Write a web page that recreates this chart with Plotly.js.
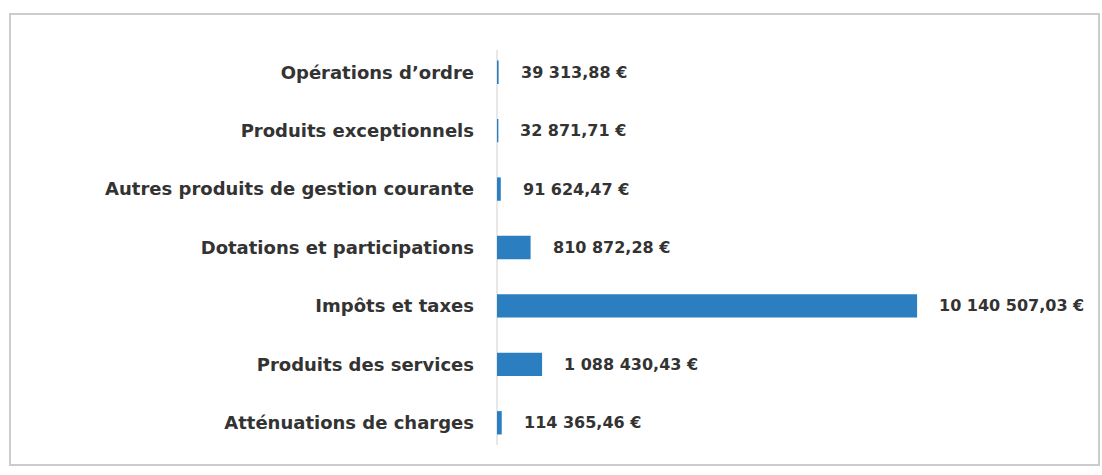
<!DOCTYPE html>
<html>
<head>
<meta charset="utf-8">
<script src="https://cdn.plot.ly/plotly-3.0.1.min.js"></script>
<style>html,body{margin:0;padding:0;background:#fff;}#chart{width:1102px;height:475px;}</style>
</head>
<body>
<div id="chart"></div>
<script>
const categories = [
  "Atténuations de charges",
  "Produits des services",
  "Impôts et taxes",
  "Dotations et participations",
  "Autres produits de gestion courante",
  "Produits exceptionnels",
  "Opérations d’ordre"
];
const values = [114365.46, 1088430.43, 10140507.03, 810872.28, 91624.47, 32871.71, 39313.88];
const valueLabels = [
  "114 365,46 €",
  "1 088 430,43 €",
  "10 140 507,03 €",
  "810 872,28 €",
  "91 624,47 €",
  "32 871,71 €",
  "39 313,88 €"
];

const FONT = "DejaVu Sans, sans-serif";
const trace = {
  type: "bar",
  orientation: "h",
  y: categories,
  x: values,
  marker: {color: "#2b7fc0"},
  width: 0.4,
  hoverinfo: "none"
};

const annotations = categories.map((c, i) => ({
  x: values[i], y: c, xref: "x", yref: "y",
  text: "<b>" + valueLabels[i] + "</b>",
  showarrow: false, xanchor: "left", yanchor: "middle",
  xshift: 20,
  font: {family: FONT, size: 16, color: "#333333"}
}));

const layout = {
  width: 1102, height: 475,
  margin: {l: 497, r: 42, t: 43, b: 23},
  paper_bgcolor: "#ffffff", plot_bgcolor: "#ffffff",
  showlegend: false,
  xaxis: {range: [0, 13.59e6], visible: false, showgrid: false, zeroline: false},
  yaxis: {
    type: "category", range: [-0.5, 6.5],
    showline: false,
    showgrid: false, zeroline: false, ticks: "",
    ticklabelstandoff: 22,
    tickfont: {family: FONT, size: 18, color: "#333333", weight: "bold"}
  },
  annotations: annotations,
  shapes: [{
    type: "rect", xref: "paper", yref: "paper",
    x0: (10 - 497) / 563, x1: (1099 - 497) / 563,
    y0: (452 - 465) / 409, y1: (452 - 14) / 409,
    line: {color: "#cccccc", width: 2}, fillcolor: "rgba(0,0,0,0)", layer: "below"
  }, {
    type: "line", xref: "paper", yref: "paper",
    x0: 0, x1: 0,
    y0: (452 - 445) / 409, y1: (452 - 50) / 409,
    line: {color: "#d0d0d0", width: 1}, layer: "below"
  }]
};

Plotly.newPlot("chart", [trace], layout, {displayModeBar: false, staticPlot: true});
</script>
</body>
</html>
